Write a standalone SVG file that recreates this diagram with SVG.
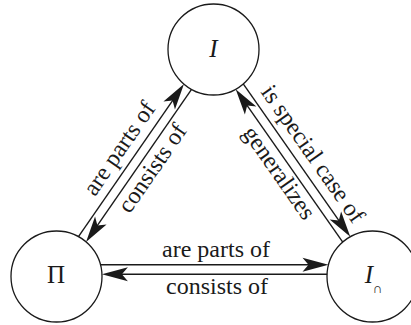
<svg xmlns="http://www.w3.org/2000/svg" width="411" height="325" viewBox="0 0 411 325">
<defs>
<style>
.node{fill:#fff;stroke:#1a1a1a;stroke-width:1.3}
.edge{fill:none;stroke:#1a1a1a;stroke-width:1.4;marker-end:url(#ah)}
text{font-family:"Liberation Serif","Times New Roman",serif;fill:#1a1a1a}
.lbl{font-size:24px;text-anchor:middle}
.nt{font-size:25px;text-anchor:middle}
</style>
<marker id="ah" viewBox="-17 -8 28 16" refX="0" refY="0" markerWidth="28" markerHeight="16" markerUnits="userSpaceOnUse" orient="auto">
<path d="M10,0 L-16,-7 L-10,0 L-16,7 Z" fill="#1a1a1a"/>
</marker>
</defs>
<rect width="411" height="325" fill="#fff"/>
<g id="node-I">
<circle class="node" cx="213.5" cy="49.5" r="45.5"/>
<text class="nt" x="213.5" y="57" font-style="italic">I</text>
</g>
<g id="node-Pi">
<circle class="node" cx="56.5" cy="276.5" r="45.5"/>
<text class="nt" x="56" y="283">Π</text>
</g>
<g id="node-Icap">
<circle class="node" cx="372.5" cy="276.5" r="45.5"/>
<text x="369" y="283" font-size="25" font-style="italic" text-anchor="middle">I</text>
<text x="377.5" y="293" font-size="14" font-family="DejaVu Serif,serif" text-anchor="middle">∩</text>
</g>
<g id="connectors">
<line class="edge" x1="100.5" y1="264.8" x2="318.5" y2="264.8"/>
<line class="edge" x1="327.1" y1="274.2" x2="111.9" y2="274.2"/>
<line class="edge" x1="78.47" y1="236.65" x2="178.28" y2="92.34"/>
<line class="edge" x1="191.53" y1="89.35" x2="91.72" y2="233.66"/>
<line class="edge" x1="243.24" y1="83.94" x2="344.56" y2="228.59"/>
<line class="edge" x1="342.76" y1="242.06" x2="241.44" y2="97.41"/>
</g>
<g id="labels">
<text class="lbl" x="216" y="257">are parts of</text>
<text class="lbl" x="217" y="294">consists of</text>
<text class="lbl" transform="translate(125.6,152.8) rotate(-55.33)">are parts of</text>
<text class="lbl" transform="translate(158.6,172.6) rotate(-55.33)">consists of</text>
<text class="lbl" transform="translate(306.6,158.3) rotate(55)">is special case of</text>
<text class="lbl" transform="translate(272.85,177.1) rotate(55)">generalizes</text>
</g>
</svg>
